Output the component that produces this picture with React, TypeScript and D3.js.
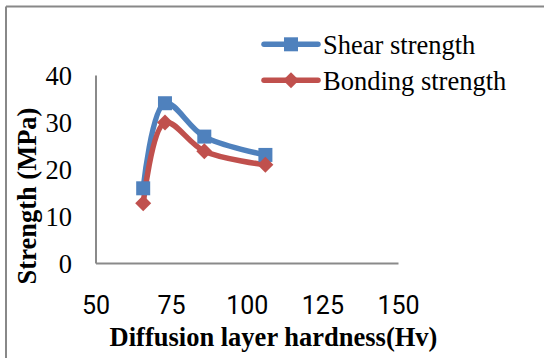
import React from "react";
import * as d3 from "d3";

const hardness = [65.6, 72.8, 85.8, 106];
const shearStrength = [16, 34.1, 27, 23.1];
const bondingStrength = [12.8, 30, 23.9, 21];
const xTicks = [50, 75, 100, 125, 150];
const yTicks = [0, 10, 20, 30, 40];
const seriesNames = ["Shear strength", "Bonding strength"];
const seriesColors = ["#4F81BD", "#C0504D"];

const W = 544;
const H = 358;

export default function App() {
  const x = d3.scaleLinear().domain([50, 150]).range([96, 398.5]);
  const y = d3.scaleLinear().domain([0, 40]).range([263.5, 75.5]);
  const line = d3
    .line<[number, number]>()
    .x((d) => x(d[0]))
    .y((d) => y(d[1]))
    .curve(d3.curveCatmullRom.alpha(0.5));

  const shearPts: [number, number][] = hardness.map((h, i) => [h, shearStrength[i]]);
  const bondPts: [number, number][] = hardness.map((h, i) => [h, bondingStrength[i]]);

  const sq = 14;
  const dm = 8;
  const diamond = (cx: number, cy: number) =>
    `M${cx},${cy - dm}L${cx + dm},${cy}L${cx},${cy + dm}L${cx - dm},${cy}Z`;

  const serif = "'Liberation Serif', 'Times New Roman', serif";
  const sans = "Roboto, 'Liberation Sans', sans-serif";

  return (
    <svg
      width={W}
      height={H}
      style={{ position: "absolute", left: 0, top: 0, background: "#fff" }}
    >
      <rect x={0} y={0} width={W} height={H} fill="#fff" />
      {/* outer frame (cropped) */}
      <line x1={6} y1={6.5} x2={W} y2={6.5} stroke="#888" strokeWidth={2} />
      <line x1={6} y1={6.5} x2={6} y2={H} stroke="#888" strokeWidth={2} />

      {/* axes */}
      <line x1={x(50)} y1={y(0)} x2={x(50)} y2={y(40)} stroke="#8a8a8a" strokeWidth={2} />
      <line x1={x(50)} y1={y(0)} x2={x(150)} y2={y(0)} stroke="#8a8a8a" strokeWidth={2} />

      {/* y ticks */}
      {yTicks.map((t) => (
        <text
          key={"y" + t}
          x={72}
          y={y(t) + 9}
          textAnchor="end"
          fontFamily={serif}
          fontSize={26.5}
          fill="#000"
        >
          {t}
        </text>
      ))}
      {/* x ticks */}
      {xTicks.map((t) => (
        <text
          key={"x" + t}
          x={x(t)}
          y={313.5}
          textAnchor="middle"
          fontFamily={sans}
          fontSize={25}
          fill="#000"
        >
          {t}
        </text>
      ))}

      {/* axis titles */}
      <text
        x={273.5}
        y={346}
        textAnchor="middle"
        fontFamily={serif}
        fontWeight="bold"
        fontSize={26.5}
        fill="#000"
      >
        Diffusion layer hardness(Hv)
      </text>
      <text
        transform={`translate(36,196) rotate(-90)`}
        textAnchor="middle"
        fontFamily={serif}
        fontWeight="bold"
        fontSize={26.5}
        fill="#000"
      >
        Strength (MPa)
      </text>

      {/* series */}
      <path d={line(shearPts) || ""} fill="none" stroke={seriesColors[0]} strokeWidth={5.5} strokeLinejoin="round" strokeLinecap="round" />
      <path d={line(bondPts) || ""} fill="none" stroke={seriesColors[1]} strokeWidth={5.5} strokeLinejoin="round" strokeLinecap="round" />
      {shearPts.map((p, i) => (
        <rect key={"s" + i} x={x(p[0]) - sq / 2} y={y(p[1]) - sq / 2} width={sq} height={sq} fill={seriesColors[0]} />
      ))}
      {bondPts.map((p, i) => (
        <path key={"b" + i} d={diamond(x(p[0]), y(p[1]))} fill={seriesColors[1]} />
      ))}

      {/* legend */}
      {seriesNames.map((name, i) => {
        const ly = 44.3 + i * 36;
        const cx = 291;
        return (
          <g key={name}>
            <line x1={264} y1={ly} x2={318} y2={ly} stroke={seriesColors[i]} strokeWidth={5.5} strokeLinecap="round" />
            {i === 0 ? (
              <rect x={cx - sq / 2} y={ly - sq / 2} width={sq} height={sq} fill={seriesColors[i]} />
            ) : (
              <path d={diamond(cx, ly)} fill={seriesColors[i]} />
            )}
            <text x={323} y={ly + 9.5} fontFamily={serif} fontSize={26.5} fill="#000">
              {name}
            </text>
          </g>
        );
      })}
    </svg>
  );
}
